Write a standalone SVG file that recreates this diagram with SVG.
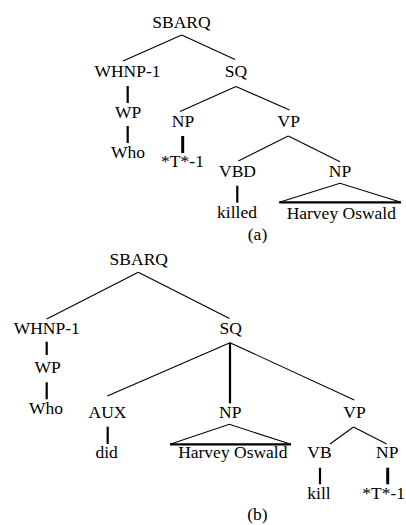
<svg xmlns="http://www.w3.org/2000/svg" width="406" height="525" viewBox="0 0 406 525">
  <style>
    text { font-family: "Liberation Serif", "Times New Roman", serif; font-size: 17.5px; fill: #000; text-anchor: middle; }
    .edge { stroke: #000; stroke-width: 1.1; fill: none; }
    .unary { stroke: #000; stroke-width: 2.2; fill: none; }
    .trace { stroke: #000; stroke-width: 3; fill: none; }
    .base { stroke: #000; stroke-width: 2.2; fill: none; }
  </style>
  <rect width="406" height="525" fill="#fff"/>

  <!-- Tree (a): connectors -->
  <g id="edges-a">
    <line class="edge" x1="181.7" y1="35" x2="123" y2="61"/>
    <line class="edge" x1="181.7" y1="35" x2="235" y2="59.5"/>
    <line class="unary" x1="127.7" y1="86" x2="127.7" y2="103"/>
    <line class="unary" x1="127.7" y1="126" x2="127.7" y2="143"/>
    <line class="edge" x1="236" y1="86.5" x2="180" y2="111.5"/>
    <line class="edge" x1="236" y1="86.5" x2="289.5" y2="110"/>
    <line class="trace" x1="182.7" y1="136" x2="182.7" y2="153"/>
    <line class="edge" x1="288.3" y1="136" x2="238.3" y2="161"/>
    <line class="edge" x1="288.3" y1="136" x2="340" y2="161.7"/>
    <line class="unary" x1="237.3" y1="185.7" x2="237.3" y2="202.7"/>
    <polyline class="edge" points="279.3,202.3 340,183.3 401,202.3"/>
    <line class="base" x1="279.3" y1="202.3" x2="401" y2="202.3"/>
  </g>

  <!-- Tree (a): nodes -->
  <g id="a-sbarq"><text x="181.5" y="28">SBARQ</text></g>
  <g id="a-whnp"><text x="127.5" y="77">WHNP-1</text></g>
  <g id="a-sq"><text x="236" y="77">SQ</text></g>
  <g id="a-wp"><text x="128" y="117.7">WP</text></g>
  <g id="a-who"><text x="128" y="158">Who</text></g>
  <g id="a-np1"><text x="183" y="127">NP</text></g>
  <g id="a-vp"><text x="288.7" y="127">VP</text></g>
  <g id="a-trace"><text x="182.5" y="166.7">*T*-1</text></g>
  <g id="a-vbd"><text x="237.5" y="177">VBD</text></g>
  <g id="a-np2"><text x="340" y="177">NP</text></g>
  <g id="a-killed"><text x="237" y="218.3">killed</text></g>
  <g id="a-harvey"><text x="341.3" y="219.3">Harvey Oswald</text></g>
  <g id="a-caption"><text x="257.5" y="240">(a)</text></g>

  <!-- Tree (b): connectors -->
  <g id="edges-b">
    <line class="edge" x1="138.3" y1="272.3" x2="46.7" y2="319"/>
    <line class="edge" x1="138.3" y1="272.3" x2="229.5" y2="318.5"/>
    <line class="unary" x1="46.7" y1="341.7" x2="46.7" y2="355"/>
    <line class="unary" x1="46.7" y1="382.3" x2="46.7" y2="399.3"/>
    <line class="edge" x1="230" y1="342.7" x2="107.3" y2="396"/>
    <line class="unary" x1="230" y1="342.7" x2="230" y2="403.3"/>
    <line class="edge" x1="230" y1="342.7" x2="354.3" y2="400"/>
    <line class="unary" x1="107.7" y1="426.7" x2="107.7" y2="444"/>
    <polyline class="edge" points="170,444.3 229.3,424.3 291,444.3"/>
    <line class="base" x1="170" y1="444.3" x2="291" y2="444.3"/>
    <line class="edge" x1="353.5" y1="427" x2="330" y2="444"/>
    <line class="edge" x1="353.5" y1="427" x2="386.7" y2="444"/>
    <line class="unary" x1="320" y1="467.7" x2="320" y2="484.3"/>
    <line class="trace" x1="387.7" y1="467.7" x2="387.7" y2="484.3"/>
  </g>

  <!-- Tree (b): nodes -->
  <g id="b-sbarq"><text x="138.8" y="265">SBARQ</text></g>
  <g id="b-whnp"><text x="46.7" y="334.3">WHNP-1</text></g>
  <g id="b-sq"><text x="230.7" y="334.3">SQ</text></g>
  <g id="b-wp"><text x="47.7" y="373.3">WP</text></g>
  <g id="b-who"><text x="46" y="414.3">Who</text></g>
  <g id="b-aux"><text x="107.5" y="418.3">AUX</text></g>
  <g id="b-np1"><text x="230.3" y="418.3">NP</text></g>
  <g id="b-vp"><text x="354.5" y="418.3">VP</text></g>
  <g id="b-did"><text x="106.7" y="458.3">did</text></g>
  <g id="b-harvey"><text x="232.8" y="458.3">Harvey Oswald</text></g>
  <g id="b-vb"><text x="319.5" y="458.3">VB</text></g>
  <g id="b-np2"><text x="387.3" y="458.3">NP</text></g>
  <g id="b-kill"><text x="319" y="499.3">kill</text></g>
  <g id="b-trace"><text x="405" y="499.3" style="text-anchor:end">*T*-1</text></g>
  <g id="b-caption"><text x="257.5" y="520">(b)</text></g>
</svg>
